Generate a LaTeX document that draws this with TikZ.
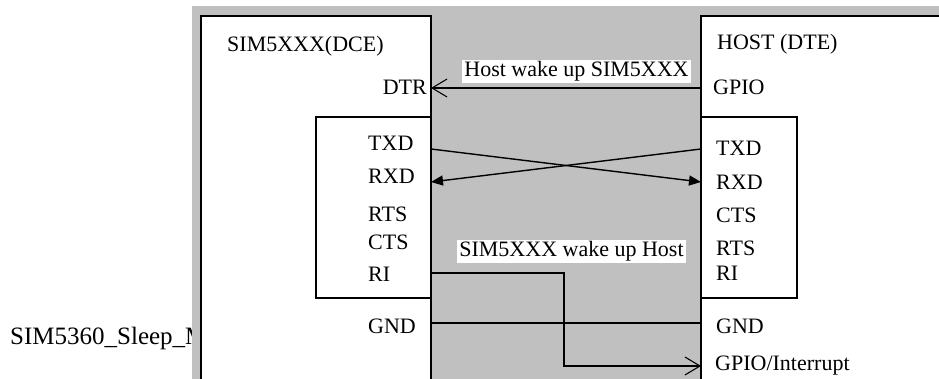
\documentclass[tikz,border=0pt]{standalone}
\usepackage{fontspec}
\setmainfont{Liberation Serif}
\usetikzlibrary{arrows.meta,positioning}
\definecolor{panelgray}{HTML}{C0C0C0}
\tikzset{pin/.style={anchor=base west,inner sep=0pt,font=\fontsize{22}{24}\selectfont},
  tag/.style={fill=white,inner sep=2pt,font=\fontsize{22}{24}\selectfont},
  wire/.style={line width=1.4pt},
  barb/.style={wire,-{Straight Barb[length=15pt,width=18pt,line width=1.1pt]}},
  tri/.style={wire,-{Triangle[length=12pt,width=10pt]}},
  board/.style={draw,line width=1.5pt,fill=white}}

\begin{document}
\begin{tikzpicture}[x=1pt,y=-1pt]
\useasboundingbox (0,0) rectangle (939,379);
\node[pin,font=\fontsize{25}{28}\selectfont] (title) at (10,344) {SIM5360\_Sleep\_M};
\fill[panelgray] (192,6) rectangle (960,400);
% the two boards
\draw[board] (201,16) rectangle (431,400);
\draw[board] (701,16) rectangle (960,400);
\draw[board] (316,117) rectangle (431,298);
\draw[board] (701,117) rectangle (797,298);
% module side
\node[pin] (dce) at (227,52) {SIM5XXX(DCE)};
\node[pin,anchor=base east] (dtr) at (427,95) {DTR};
\foreach \n/\t/\y in {txd/TXD/151,rxd/RXD/184,rts/RTS/222,cts/CTS/250,ri/RI/281,gnd/GND/333}
  \node[pin] (d-\n) at (368,\y) {\t};
% host side
\node[pin] (host) at (717,50) {HOST (DTE)};
\node[pin] (gpio) at (713,95) {GPIO};
\foreach \n/\t/\y in {txd/TXD/156,rxd/RXD/190,cts/CTS/223,rts/RTS/255,ri/RI/280,gnd/GND/333}
  \node[pin] (h-\n) at (716,\y) {\t};
\node[pin] (irq) at (715,370) {GPIO/Interrupt};
% pin ends on the board edges
\coordinate (dce-dtr) at (431,88);
\coordinate (host-gpio) at (701,88);
\coordinate (dce-txd) at (431,149);
\coordinate (dce-rxd) at (431,182);
\coordinate (host-txd) at (701,149);
\coordinate (host-rxd) at (701,182);
\coordinate (dce-ri) at (431,273);
\coordinate (bend) at (564,273);
\coordinate (host-irq) at (701,366);
\coordinate (dce-gnd) at (431,323);
\coordinate (host-gnd) at (701,323);
% wires
\draw[barb] (host-gpio) -- (dce-dtr);
\draw[tri] (dce-txd) -- (host-rxd);
\draw[tri] (host-txd) -- (dce-rxd);
\draw[wire] (dce-gnd) -- (host-gnd);
\draw[barb] (dce-ri) -- (bend) |- (host-irq);
\node[tag] (wake1) at (576.5,71.5) {Host wake up SIM5XXX};
\node[tag] (wake2) at (571.5,251.5) {SIM5XXX wake up Host};
\end{tikzpicture}
\end{document}
